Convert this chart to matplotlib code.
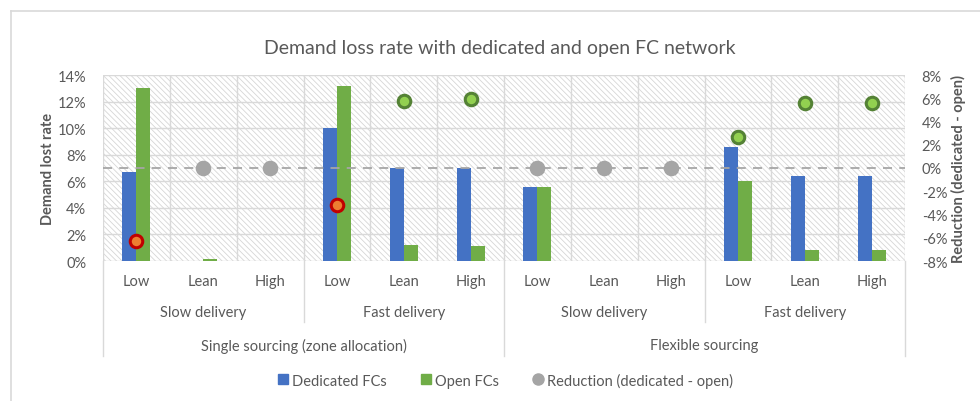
import matplotlib.pyplot as plt
from matplotlib.patches import Rectangle
from matplotlib.lines import Line2D
from matplotlib.ticker import PercentFormatter
import numpy as np

plt.rcParams['font.family'] = ['Lato', 'DejaVu Sans']
plt.rcParams['hatch.linewidth'] = 0.6
plt.rcParams['axes.unicode_minus'] = False

# chart values (percent)
levels = ['Low', 'Lean', 'High'] * 4
delivery = ['Slow delivery', 'Fast delivery', 'Slow delivery', 'Fast delivery']
sourcing = ['Single sourcing (zone allocation)', 'Flexible sourcing']
dedicated = [6.7, 0.0, 0.0, 10.0, 7.0, 7.0, 5.6, 0.0, 0.0, 8.6, 6.4, 6.4]
open_fcs = [13.0, 0.15, 0.0, 13.2, 1.2, 1.1, 5.6, 0.0, 0.0, 6.0, 0.8, 0.8]
reduction = [-6.3, 0.0, 0.0, -3.2, 5.8, 5.9, 0.0, 0.0, 0.0, 2.7, 5.6, 5.6]

grey_txt = '#595959'
grid_c = '#D9D9D9'
blue = '#4472C4'
green = '#70AD47'

fig = plt.figure(figsize=(9.8, 4.02), dpi=100)
ax = fig.add_axes([103 / 980, 1 - 262 / 402, 802 / 980, 186 / 402])
ax2 = ax.twinx()

n = len(levels)
x = np.arange(n)
w = 0.21

# hatched background
ax.add_patch(Rectangle((-0.5, 0), n, 14, facecolor='white', edgecolor='#D6D6D6',
                       hatch='\\\\\\\\\\\\', linewidth=0, zorder=0))
for yv in np.arange(0, 15, 2):
    ax.axhline(yv, color=grid_c, lw=1, zorder=1)
for xv in np.arange(-0.5, n, 1):
    ax.axvline(xv, color=grid_c, lw=1, zorder=1)

ax.bar(x - w / 2, dedicated, w, color=blue, zorder=3, label='Dedicated FCs')
ax.bar(x + w / 2, open_fcs, w, color=green, zorder=3, label='Open FCs')

ax.set_xlim(-0.5, n - 0.5)
ax.set_ylim(0, 14)
ax.set_yticks(np.arange(0, 15, 2))
ax.yaxis.set_major_formatter(PercentFormatter(decimals=0))
ax.set_xticks([])
for s in ax.spines.values():
    s.set_visible(False)
for s in ax2.spines.values():
    s.set_visible(False)
ax.tick_params(axis='y', length=0, pad=12, labelcolor=grey_txt, labelsize=10.5)
ax.set_ylabel('Demand lost rate', fontsize=10.5, fontweight='bold', color=grey_txt, labelpad=2)

# reduction markers on secondary axis
ax2.set_ylim(-8, 8)
ax2.set_yticks(np.arange(-8, 9, 2))
ax2.yaxis.set_major_formatter(PercentFormatter(decimals=0))
ax2.tick_params(axis='y', length=0, pad=12, labelcolor=grey_txt, labelsize=10.5)
ax2.set_ylabel('Reduction (dedicated - open)', fontsize=10.5, fontweight='bold',
               color=grey_txt, labelpad=3)
ax2.axhline(0, color='#A6A6A6', lw=1.3, ls=(0, (5, 4)), zorder=2)
for xi, r in zip(x, reduction):
    if r < 0:
        fc, ec = '#ED7D31', '#C00000'
    elif r > 0:
        fc, ec = '#92D050', '#548235'
    else:
        fc, ec = '#A5A5A5', '#A5A5A5'
    ax2.plot(xi, r, 'o', ms=9, mfc=fc, mec=ec, mew=2.2, zorder=5)

# hierarchical category axis
tr = ax.get_xaxis_transform()
for xi, lab in zip(x, levels):
    ax.text(xi, -0.108, lab, transform=tr, ha='center', va='center',
            fontsize=10.5, color=grey_txt)
for i, lab in enumerate(delivery):
    ax.text(3 * i + 1, -0.274, lab, transform=tr, ha='center', va='center',
            fontsize=10.5, color=grey_txt)
for i, lab in enumerate(sourcing):
    ax.text(6 * i + 2.5, -0.452, lab, transform=tr, ha='center', va='center',
            fontsize=10.5, color=grey_txt)
for xv in [2.5, 8.5]:
    ax.add_line(Line2D([xv, xv], [0, -0.328], transform=tr, color=grid_c,
                       lw=1, clip_on=False))
for xv in [-0.5, 5.5, 11.5]:
    ax.add_line(Line2D([xv, xv], [0, -0.51], transform=tr, color=grid_c,
                       lw=1, clip_on=False))

fig.suptitle('Demand loss rate with dedicated and open FC network', x=0.51, y=0.9,
             fontsize=14, color=grey_txt)

handles = [
    Line2D([], [], marker='s', ls='', ms=7, color=blue),
    Line2D([], [], marker='s', ls='', ms=7, color=green),
    Line2D([], [], marker='o', ls='', ms=8, color='#A5A5A5'),
]
fig.legend(handles, ['Dedicated FCs', 'Open FCs', 'Reduction (dedicated - open)'],
           loc='center', bbox_to_anchor=(0.515, 1 - 381 / 402), ncol=3, frameon=False,
           fontsize=10.5, labelcolor=grey_txt, handletextpad=0.1, columnspacing=2.2,
           handlelength=1.0)

# outer chart frame (left and top edges visible)
fig.add_artist(Line2D([11 / 980, 11 / 980], [0, 1 - 12 / 402], transform=fig.transFigure,
                      color=grid_c, lw=1.2))
fig.add_artist(Line2D([11 / 980, 1], [1 - 12 / 402, 1 - 12 / 402], transform=fig.transFigure,
                      color=grid_c, lw=1.2))

fig.savefig('out.png', dpi=100)
